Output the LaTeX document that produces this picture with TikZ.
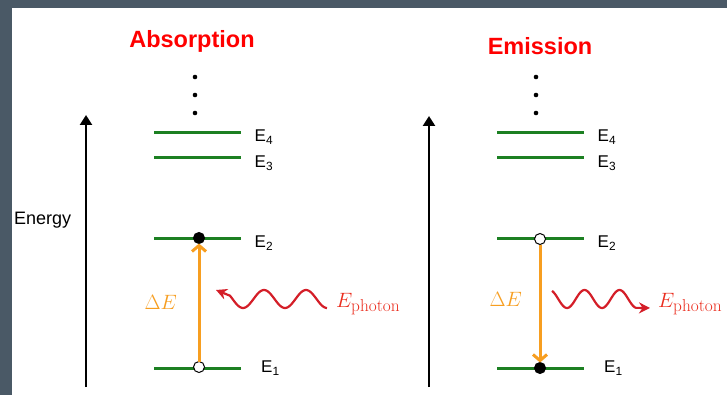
\documentclass[tikz,border=0pt]{standalone}
\usepackage[no-math]{fontspec}
\setmainfont{Liberation Sans}
\usepackage{xcolor}
\usetikzlibrary{positioning,arrows.meta}
\DeclareMathSizes{22}{22}{17}{13}

\definecolor{slide}{RGB}{74,89,102}
\definecolor{lvgreen}{RGB}{28,128,34}
\definecolor{trorange}{RGB}{247,158,32}
\definecolor{wavered}{RGB}{212,30,40}
\definecolor{phred}{RGB}{235,45,30}
\definecolor{ttlred}{RGB}{255,0,0}

\begin{document}
\begin{tikzpicture}[x=1pt, y=-1pt,
  elevel/.style={draw=lvgreen, line width=3pt},
  elabel/.style={inner sep=0pt, font=\fontsize{17}{17}\selectfont},
  ttl/.style={text=ttlred, font=\fontsize{23.5}{24}\selectfont\bfseries, inner sep=0pt, anchor=base},
  axis/.style={line width=2.4pt, -{Triangle[length=10pt,width=12pt]}},
  trans/.style={draw=trorange, line width=3pt, -{Straight Barb[length=6pt,width=14pt]}},
  dlabel/.style={text=trorange, font=\fontsize{20}{20}\selectfont, inner sep=0pt},
  wave/.style={draw=wavered, line width=2.2pt, -{Stealth[length=11pt,width=11pt]}},
  plabel/.style={text=phred, font=\fontsize{22}{22}\selectfont, inner sep=0pt, anchor=base west},
  full/.style={circle, fill=black, draw=black, line width=1pt, minimum size=11pt, inner sep=0pt, outer sep=0pt},
  hollow/.style={full, fill=white}]

\useasboundingbox (0,0) rectangle (727,395);
\fill[white] (0,0) rectangle (727,395);
\fill[slide] (0,0) rectangle (727,8);
\fill[slide] (0,0) rectangle (12,395);

\node[ttl] (tA) at (192,48) {Absorption};
\node[ttl] (tB) at (540,55) {Emission};

\node[anchor=base west, inner sep=0pt, font=\fontsize{18}{18}\selectfont] (en) at (14,224) {Energy};

% energy axes
\coordinate (axA0) at (86,387);
\coordinate (axA1) at (86,115);
\coordinate (axB0) at (429,387);
\coordinate (axB1) at (429,116);
\draw[axis] (axA0) -- (axA1);
\draw[axis] (axB0) -- (axB1);

% levels
\foreach \p/\dx in {A/0,B/343}
  \foreach \i/\y in {1/368,2/238,3/158,4/133}
    \draw[elevel] (154+\dx,\y) coordinate (\p\i l) -- (241+\dx,\y) coordinate (\p\i r);

\foreach \p in {A,B}
  \foreach \i/\g/\s in {1/20pt/0pt,2/13.5pt/-5pt,3/13.5pt/-5pt,4/13.5pt/-4pt}
    \node[elabel, right=\g of \p\i r, yshift=\s] (\p\i t) {E\textsubscript{\i}};

\foreach \y in {77,95,113} {
  \fill (195,\y) circle[radius=2.3pt];
  \fill (536,\y) circle[radius=2.3pt];
}

% absorption
\node[hollow] (A1c) at (199,367) {};
\node[full] (A2c) at (199,238) {};
\draw[trans] (A1c) -- (A2c);
\path (A1c) -- (A2c) coordinate[midway] (Amid);
\node[dlabel, left=22pt of Amid] (dA) {$\Delta E$};
\draw[wave] plot[domain=327:230, samples=80] (\x,{299+9*cos((\x-243)/42*360)}) -- (216,290);
\node[plabel] (pA) at (336,307) {$E_{\mathrm{photon}}$};

% emission
\node[hollow] (B2c) at (540,239) {};
\node[full] (B1c) at (540,368) {};
\draw[trans] (B2c) -- (B1c);
\path (B2c) -- (B1c) coordinate[midway] (Bmid);
\node[dlabel, left=18pt of Bmid, yshift=4pt] (dB) {$\Delta E$};
\draw[wave] plot[domain=552:636, samples=80] (\x,{299+9*cos((\x-567)/35*360)}) -- (650,308);
\node[plabel] (pB) at (658,307) {$E_{\mathrm{photon}}$};

\end{tikzpicture}
\end{document}
